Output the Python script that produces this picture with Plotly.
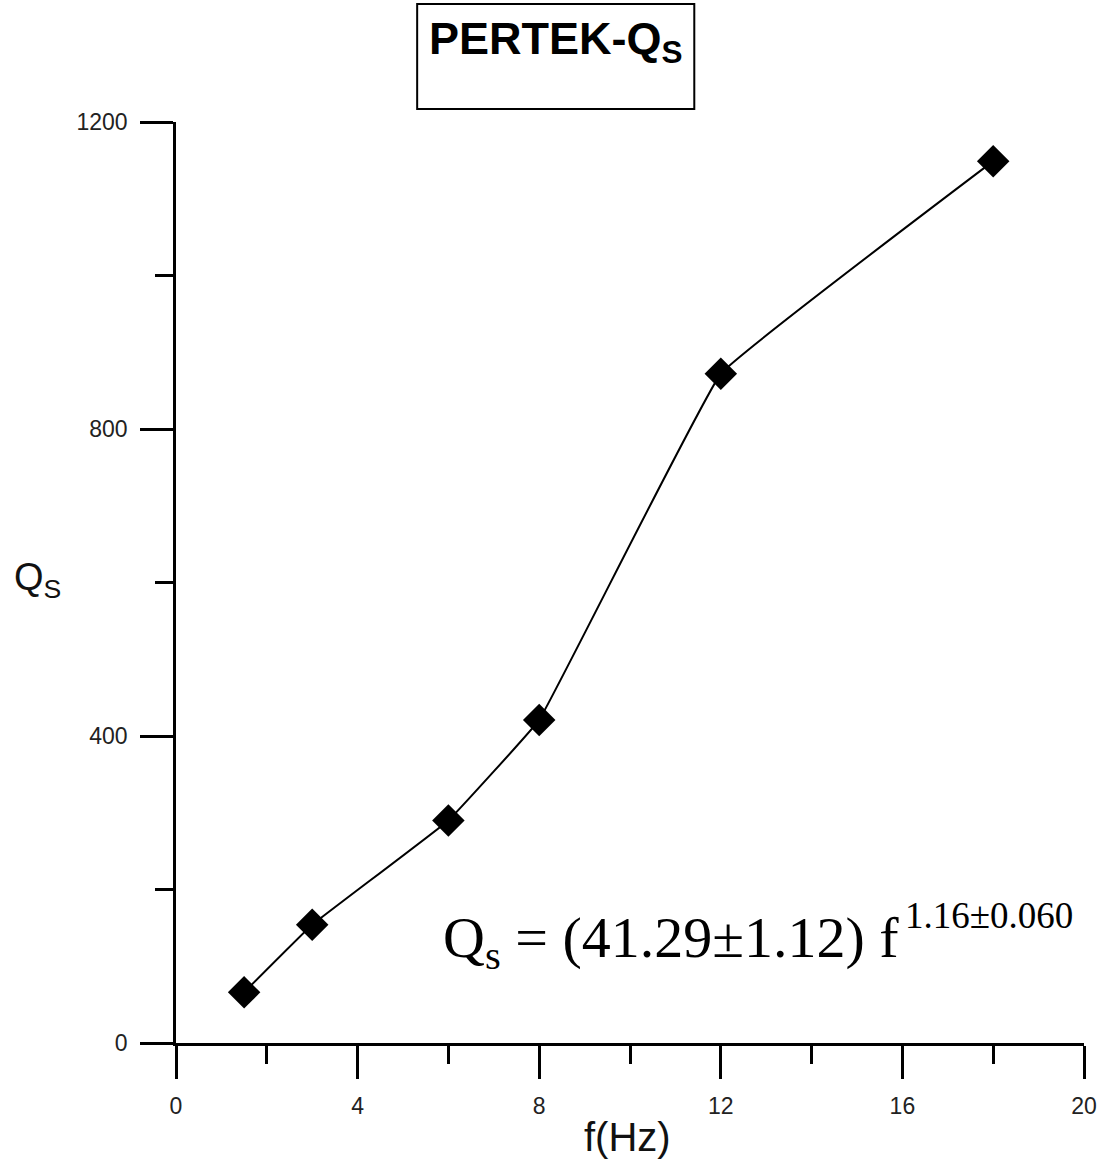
import plotly.graph_objects as go

# Data
freq_hz = [1.5, 3, 6, 8, 12, 18]
qs_values = [66, 154, 290, 421, 872, 1149]

x_tickvals = [0, 4, 8, 12, 16, 20]
y_tickvals = [0, 400, 800, 1200]

title_text = "PERTEK-Q<sub>S</sub>"
x_title = "f(Hz)"
y_title = "Q<sub>S</sub>"
eq_main = "Q<sub>s</sub> = (41.29±1.12) f"
eq_sup = "1.16±0.060"

fig = go.Figure()
fig.add_trace(go.Scatter(
    x=freq_hz, y=qs_values, mode="lines+markers",
    line=dict(color="black", width=2, shape="spline", smoothing=0.2),
    marker=dict(symbol="diamond", size=25, color="black"),
    showlegend=False,
))

axis_common = dict(
    showline=True, linecolor="black", linewidth=2.5,
    ticks="outside", ticklen=33, tickwidth=2.5, tickcolor="black",
    showgrid=False, zeroline=False,
    tickfont=dict(family="Arial, Liberation Sans", size=23, color="#222"),
    ticklabelstandoff=8,
)

fig.update_xaxes(range=[0, 20], tickvals=x_tickvals,
                 minor=dict(ticks="outside", ticklen=18, tickwidth=2.5,
                            tickcolor="black", dtick=2, showgrid=False),
                 **axis_common)
fig.update_yaxes(range=[0, 1200], tickvals=y_tickvals,
                 minor=dict(ticks="outside", ticklen=18, tickwidth=2.5,
                            tickcolor="black", dtick=200, showgrid=False),
                 **axis_common)

fig.add_shape(type="rect", xref="paper", yref="paper",
              x0=0.2656, x1=0.5708, y0=1.0141, y1=1.1281,
              line=dict(color="black", width=2), fillcolor="white")

fig.add_annotation(text="<b>" + title_text + "</b>", xref="paper", yref="paper",
                   x=0.418, y=1.087, xanchor="center", yanchor="middle",
                   showarrow=False,
                   font=dict(family="Arial, Liberation Sans", size=45, color="black"))

fig.add_annotation(text=x_title, xref="paper", yref="paper",
                   x=0.497, y=-0.102, xanchor="center", yanchor="middle",
                   showarrow=False,
                   font=dict(family="Arial, Liberation Sans", size=40, color="#111"))

fig.add_annotation(text=y_title, xref="paper", yref="paper",
                   x=-0.153, y=0.5027, xanchor="center", yanchor="middle",
                   showarrow=False,
                   font=dict(family="Arial, Liberation Sans", size=38, color="#111"))

fig.add_annotation(text=eq_main, xref="paper", yref="paper",
                   x=0.292, y=0.1105, xanchor="left", yanchor="middle",
                   showarrow=False,
                   font=dict(family="Times New Roman, Liberation Serif", size=58, color="black"))

fig.add_annotation(text=eq_sup, xref="paper", yref="paper",
                   x=0.801, y=0.1379, xanchor="left", yanchor="middle",
                   showarrow=False,
                   font=dict(family="Times New Roman, Liberation Serif", size=37, color="black"))

fig.update_layout(
    width=1109, height=1172,
    margin=dict(l=176, r=22, t=122, b=129),
    plot_bgcolor="white", paper_bgcolor="white",
)

fig.write_html("out.html")
